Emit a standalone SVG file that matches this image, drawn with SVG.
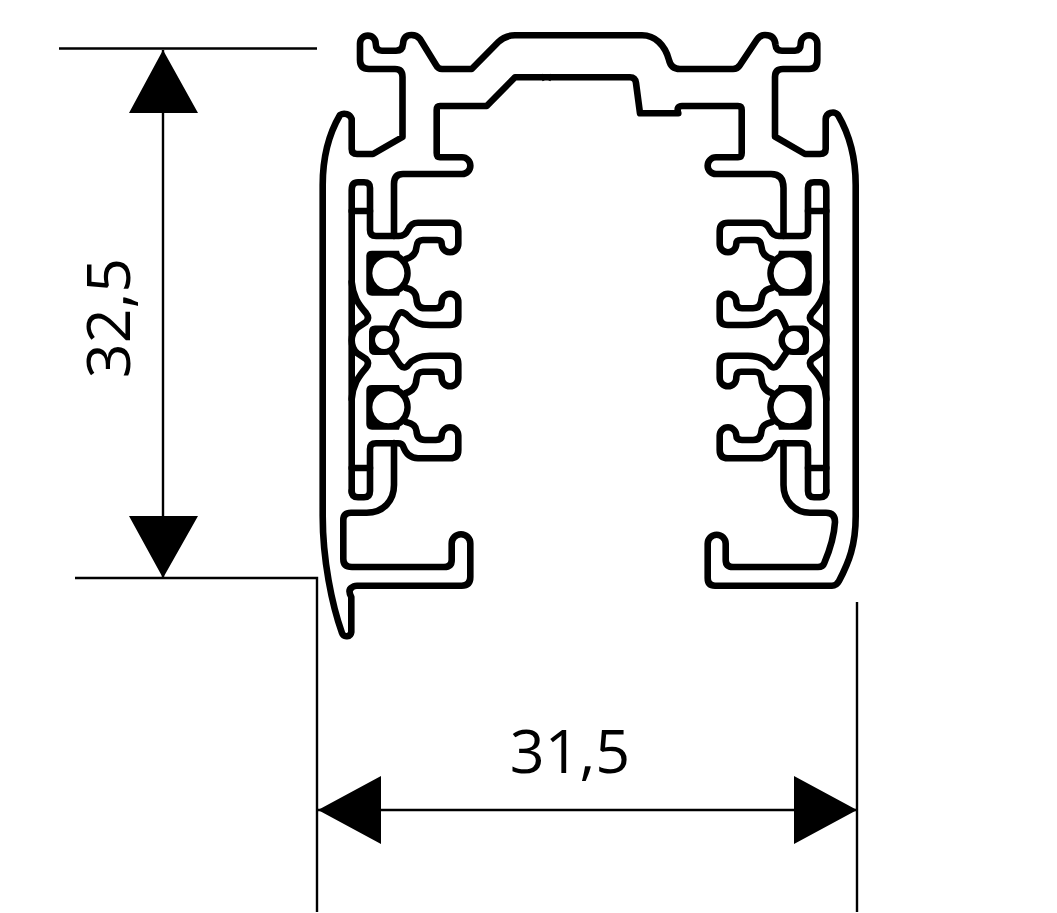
<svg xmlns="http://www.w3.org/2000/svg" width="1057" height="913" viewBox="0 0 1057 913">
<style>
.p{fill:none;stroke:#000;stroke-width:6.6;stroke-linejoin:round;stroke-linecap:round}
.b{fill:#000}
.d{fill:none;stroke:#000;stroke-width:2.4}
.t{font-family:"Open Sans","Noto Sans",sans-serif;font-size:61px;fill:#000;text-anchor:middle}
</style>
<defs>
<g id="inner">
<path class="p" d="M351.7,492 V190 Q351.7,182.3 358,182.3 H364 Q370,182.3 370,188 V230 Q370,236 376,236 H399 Q405,236 408,230 C410,225 413,222.7 418,222.7 H450 Q458.3,222.7 458.3,231 V244 A8.3,8.3 0 0 1 441.7,244 Q441.7,240 437,240 H423 Q417,240 416.5,247 Q416,256 406,259"/>
<path class="p" d="M406,288 Q416,290 416.5,299 Q417,308.3 425,308.3 H436 Q441.7,308.3 441.7,302 A8.3,8.3 0 0 1 458.3,302 V317 Q458.3,325 450,325 H430 Q415,325 408,316 Q403,311 399.5,313 Q397,315 391.7,328"/>
<path class="p" d="M391.7,352.7 L400,365 Q404.5,370 408.3,365 Q415,356 430,355.7 H450 Q458.3,355.7 458.3,364 V378 A8.3,8.3 0 0 1 441.7,378 V377 Q441.7,371.7 437,371.7 H423 Q417,371.7 416.5,379 Q416,390 406,393"/>
<path class="p" d="M406,422 Q416,424 416.5,431 Q417,440 425,440 H436 Q441.7,440 441.7,435.6 A8.3,8.3 0 0 1 458.3,435.6 V450 Q458.3,458.3 450,458.3 H418 Q407,458 403,446 Q402,443.3 398,443.3 H376 Q370,443.3 370,449 V491 Q370,497.3 364,497.3 H358 Q351.7,497.3 351.7,491"/>
<path class="p" d="M351.7,211 H370 M351.7,468 H370"/>
<path class="p" d="M351.7,282 C353,296 358,304 366,313 Q370,318 366,322 L357,328 Q351.7,333 351.7,340.4 Q351.7,348 357,353 L366,359 Q370,363 366,368 C358,377 353,385 351.7,399"/>
<path class="b" d="M372,250.7 H399 L400,254.1 A22.5,22.5 0 0 1 400,292.5 L399,295.7 H372 Q366.3,295.7 366.3,290 V256 Q366.3,250.7 372,250.7Z M388.3,257.3 A16,16 0 1 0 388.4,257.3Z" fill-rule="evenodd"/>
<path class="b" d="M372,385 H399 L400,388.1 A22.5,22.5 0 0 1 400,426.5 L399,429.7 H372 Q366.3,429.7 366.3,424 V390.3 Q366.3,385 372,385Z M388.3,391.3 A16,16 0 1 0 388.4,391.3Z" fill-rule="evenodd"/>
<path class="b" d="M375,325.5 H385 A15,15 0 0 1 399.5,340 A15,15 0 0 1 385,355 H375 Q369,355 369,349 V331.5 Q369,325.5 375,325.5Z M384,331 A9,9 0 1 0 384.1,331Z" fill-rule="evenodd"/>
</g>
</defs>
<g id="profile">
<path class="p" d="M375.7,43.5 A7.85,7.85 0 0 0 360,43.5 V60 Q360,69 369,69 H395 Q402.5,69 402.5,77 V137 L373,154 H357 Q351.7,154 351.7,149 V119 A8,8 0 0 0 340,115 C330,132 322.7,155 322.7,185 V516 C322.7,560 332,605 342,633 A4.8,4.8 0 0 0 351.3,632 V597 Q347.5,590 352,587.5 Q353.5,585.7 357,585.7 H461.7 Q470.3,585.7 470.3,577 V543.5 A9.3,9.3 0 0 0 451.7,543.5 V560 Q451.7,567 444,567 H352 Q343.3,567 343.3,559 V520 Q343.3,512.7 351,512.7 H366.7 C384,512.7 394,500 394,485 V443 M394,236 V184 Q394,174 403,174 H462 A8.35,8.35 0 0 0 462,157.3 H440 Q436.7,157.3 436.7,153 V110 Q436.7,106 440,106 H486.7 L515,77.3 H630 Q635.3,77.3 636,83 L640,113.3 H678.3 Q676,106 682,106 H738 Q741.7,106 741.7,110 V153 Q741.7,157.3 738,157.3 H716 A8.35,8.35 0 0 0 716,174 H771 Q783.5,174 783.5,188 V236 M783.5,443 V485 C783.5,500 794,512.7 810,512.7 H826 Q835,512.7 835,522 C834,538 829,552 824.3,563 Q823,567 818,567 H733 Q725.7,567 725.7,560 V543.7 A9,9 0 0 0 707.7,543.7 V578 Q707.7,585.7 715,585.7 H832 Q836.5,585.7 839,581 C849,562 855.7,545 855.7,516 V185 C855.7,155 848,132 838,115 A7,7 0 0 0 825.7,119 V149 Q825.7,154 820,154 H805 L775,136.7 V77 Q775,69 783,69 H809 Q817.3,69 817.3,60 V43.6 A8.3,8.3 0 0 0 800.7,43.6 Q800.7,50.7 795,50.7 H782 Q776,50.7 775.5,45 Q775,35 765,35 Q760,35 756.7,40 L740,65 Q737.5,69 733,69 H680 Q671,69 669,60 C665,45 655,35.3 642,35.3 H515 Q505,35.3 498.3,42 L471.7,69 H442 Q438,69 436,65 L420,39 Q417,35 411.5,35 Q403.5,35 403,44 Q402.5,50.7 396,50.7 H382 Q375.7,50.7 375.7,43.5"/>
<path d="M542,75 L551,80 M542,80 L551,75" fill="none" stroke="#000" stroke-width="3"/>
<use href="#inner"/>
<use href="#inner" transform="translate(1178,0) scale(-1,1)"/>
</g>
<g id="dimension-height">
<path class="d" d="M59,48.5 H317 M75,578 H317 V912 M163,50 V578"/>
<path class="b" d="M163,50 L129,113 H198Z M163,578 L129,516 H198Z"/>
<text class="t" transform="translate(130,318) rotate(-90)">32,5</text>
</g>
<g id="dimension-width">
<path class="d" d="M857,602 V912 M318,810 H857"/>
<path class="b" d="M318,810 L381,776 V844Z M857,810 L794,776 V844Z"/>
<text class="t" x="570" y="773">31,5</text>
</g>
</svg>
